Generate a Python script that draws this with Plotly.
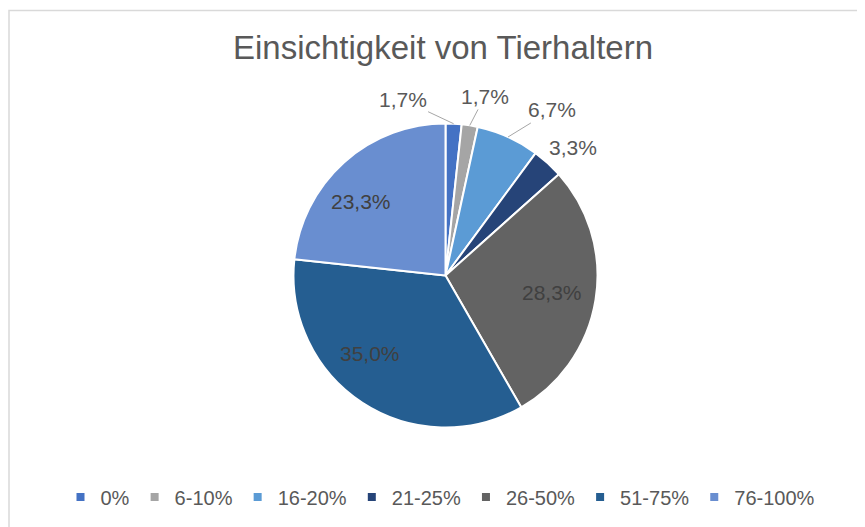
import math
import plotly.graph_objects as go

categories = ["0%", "6-10%", "16-20%", "21-25%", "26-50%", "51-75%", "76-100%"]
shares = [1.7, 1.7, 6.7, 3.3, 28.3, 35.0, 23.3]
colors = ["#4472C4", "#A5A5A5", "#5B9BD5", "#264478", "#636363", "#255E91", "#698ED0"]
title_text = "Einsichtigkeit von Tierhaltern"

# label placement (layout only)
inside = [False, False, False, False, True, True, True]
outside_offsets = [(-51, -24), (15, -29), (44, -27), (25, -16), None, None, None]
inside_shifts = [None, None, None, None, (-2, 0), (-16, 0), (-11, -7)]
leader = [True, True, True, False, False, False, False]

W, H = 865, 527
cx, cy, r = 437.5, 267.5, 152
label_size = 21


def px(x):
    return x / W


def py(y):
    return 1 - y / H


fig = go.Figure(go.Pie(
    labels=categories,
    values=shares,
    sort=False,
    direction="clockwise",
    rotation=0,
    marker=dict(colors=colors, line=dict(color="white", width=2)),
    textinfo="none",
    hoverinfo="label+percent",
    showlegend=False,
    domain=dict(x=[px(cx - r), px(cx + r)], y=[py(cy + r), py(cy - r)]),
))

# legend entries with small square markers
for cat, col in zip(categories, colors):
    fig.add_trace(go.Scatter(x=[None], y=[None], mode="markers", name=cat,
                             marker=dict(symbol="square", size=8, color=col),
                             hoverinfo="skip", showlegend=True))

# slice labels positioned from the data (mid-angle of each slice)
annotations = []
total = sum(shares)
cum = 0.0
for i, v in enumerate(shares):
    mid = (cum + v / 2) / total * 2 * math.pi
    cum += v
    txt = f"{v:.1f}%".replace(".", ",")
    sx, sy = math.sin(mid), -math.cos(mid)
    if inside[i]:
        rr = 0.72 * r
        shx, shy = inside_shifts[i]
        annotations.append(dict(x=px(cx + rr * sx), y=py(cy + rr * sy), xref="paper", yref="paper",
                                text=txt, showarrow=False, xshift=shx, yshift=shy,
                                font=dict(size=label_size, color="#404040")))
    else:
        ex, ey = cx + r * sx, cy + r * sy
        dx, dy = outside_offsets[i]
        annotations.append(dict(x=px(ex), y=py(ey), xref="paper", yref="paper",
                                text=txt, showarrow=True, ax=dx, ay=dy,
                                arrowhead=0, arrowwidth=1, standoff=0,
                                arrowcolor="#A6A6A6" if leader[i] else "rgba(0,0,0,0)",
                                font=dict(size=label_size, color="#595959")))

fig.update_layout(
    width=W, height=H,
    margin=dict(l=0, r=0, t=0, b=0),
    paper_bgcolor="white",
    plot_bgcolor="white",
    font=dict(family="Liberation Sans, Arial, sans-serif", color="#595959"),
    title=dict(text=title_text, x=px(435), xanchor="center", y=py(39), yanchor="middle",
               font=dict(size=33, color="#595959")),
    legend=dict(orientation="h", x=0.5, xanchor="center", y=py(489), yanchor="middle",
                font=dict(size=20, color="#595959"), traceorder="normal"),
    xaxis=dict(visible=False),
    yaxis=dict(visible=False),
    annotations=annotations,
    shapes=[dict(type="rect", xref="paper", yref="paper", x0=px(1), x1=1.02, y0=-0.02,
                 y1=py(2.5), line=dict(color="#D9D9D9", width=1.5), layer="below")],
)

fig.write_html("out.html")
